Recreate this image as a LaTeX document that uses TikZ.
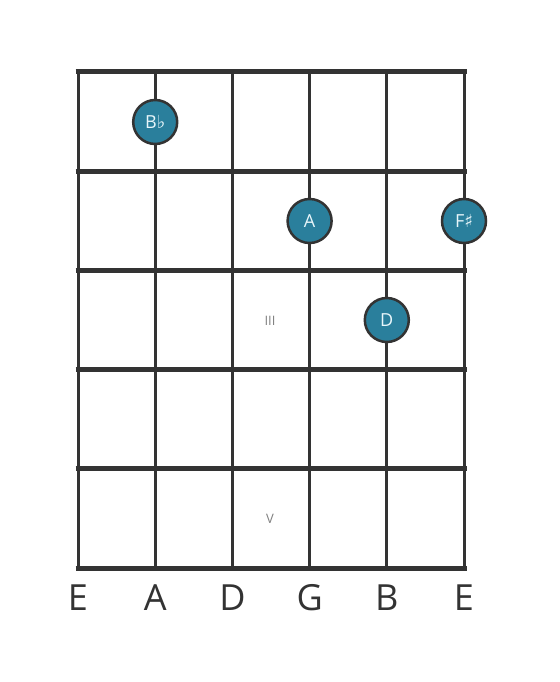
\documentclass[tikz,border=0pt]{standalone}
\usepackage{fontspec}
\setmainfont{Open Sans}
\newfontfamily\symfont{DejaVu Sans}
\definecolor{fretgray}{HTML}{333333}
\definecolor{noteblue}{HTML}{2A7F9C}
\definecolor{notetext}{HTML}{E8F6FA}
\tikzset{
  note/.style={circle,draw=fretgray,line width=2.5pt,fill=noteblue,minimum size=44pt,inner sep=0pt,text=notetext,font=\fontsize{18}{18}\selectfont},
  fretnum/.style={text=gray,font=\fontsize{13}{13}\selectfont},
  strname/.style={text=fretgray,font=\fontsize{36}{36}\selectfont}
}
\begin{document}
\begin{tikzpicture}[x=1pt,y=-1pt]
      \useasboundingbox[fill=white] (0,0) rectangle (559,682);
      \foreach \x in {78,155.2,232.4,309.6,386.8,464}
        \draw[fretgray,line width=3pt] (\x,72) -- (\x,568);
      \foreach \y in {72,171.2,270.4,369.6,468.8,568}
        \draw[fretgray,line width=5pt] (75.5,\y) -- (466.5,\y);
      \node[fretnum] (three) at (270,321){III};
      \node[fretnum] (five) at (270,519){V};
      \node[note] (bflat) at (155.2,122){B{\symfont\char"266D}};
      \node[note] (a) at (309.6,221){A};
      \node[note] (fsharp) at (464,221){F{\symfont\char"266F}};
      \node[note] (d) at (386.8,320){D};
      \node[strname] (s1) at (78,598){E};
      \node[strname] (s2) at (155.2,598){A};
      \node[strname] (s3) at (232.4,598){D};
      \node[strname] (s4) at (309.6,598){G};
      \node[strname] (s5) at (386.8,598){B};
      \node[strname] (s6) at (464,598){E};
    \end{tikzpicture}
\end{document}
